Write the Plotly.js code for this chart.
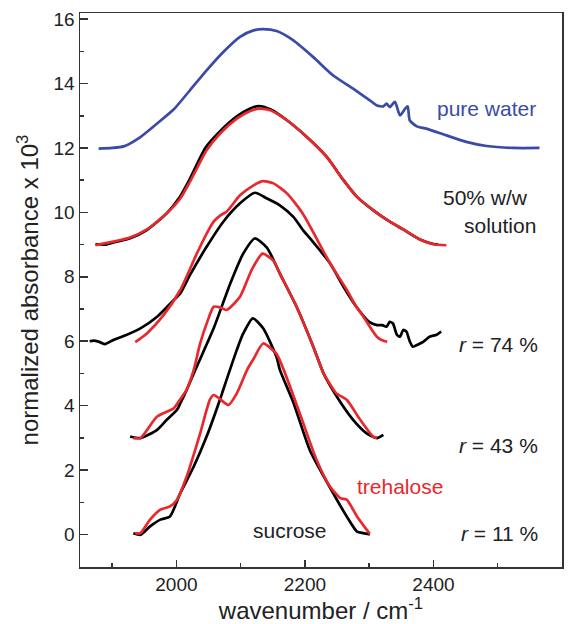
<!DOCTYPE html>
<html>
<head>
<meta charset="utf-8">
<script src="https://cdn.plot.ly/plotly-3.0.1.min.js"></script>
<style>html,body{margin:0;padding:0;background:#fff;}#chart{width:583px;height:624px;}</style>
</head>
<body>
<div id="chart"></div>
<script>
// pure water
const waterX = [1879,1900,1918,1944,1970,1996,2021,2047,2073,2099,2120,2135,2156,2182,2213,2244,2275,2301,2312,2322,2327,2332,2340,2348,2356,2360,2363,2374,2389,2420,2451,2483,2524,2565];
const waterY = [11.98,12.0,12.05,12.34,12.76,13.2,13.79,14.41,14.98,15.45,15.65,15.69,15.63,15.34,14.82,14.25,13.84,13.48,13.32,13.29,13.38,13.27,13.43,13.01,13.22,13.29,12.86,12.67,12.6,12.39,12.19,12.06,12.0,12.0];
// 50% w/w solution
const suc50X = [1874,1890,1905,1928,1954,1985,2005,2020,2045,2068,2094,2114,2128,2146,2172,2203,2234,2260,2281,2306,2332,2353,2379,2400,2407];
const suc50Y = [9.01,9.0,9.08,9.2,9.45,9.97,10.47,11.0,12.0,12.52,12.98,13.22,13.3,13.2,12.86,12.34,11.72,11.0,10.48,10.07,9.71,9.47,9.16,9.02,9.0];
const tre50X = [1874,1902,1928,1954,1985,2006,2021,2047,2068,2094,2115,2130,2146,2172,2203,2234,2260,2281,2306,2332,2353,2379,2400,2420];
const tre50Y = [8.98,9.09,9.22,9.47,9.97,10.43,10.95,11.93,12.45,12.91,13.15,13.22,13.17,12.86,12.34,11.72,11.0,10.48,10.07,9.71,9.47,9.16,9.01,8.98];
// r = 74 %
const suc74X = [1865,1871,1880,1889,1902,1918,1944,1970,1996,2006,2021,2047,2073,2099,2122,2141,2161,2182,2197,2208,2239,2260,2280,2300,2312,2320,2327,2332,2337,2343,2348,2353,2358,2363,2368,2376,2384,2394,2405,2412];
const suc74Y = [6.0,6.02,5.98,5.91,6.04,6.16,6.4,6.76,7.28,7.48,8.05,8.93,9.71,10.28,10.61,10.43,10.22,9.86,9.45,9.19,8.42,7.69,7.07,6.6,6.5,6.5,6.45,6.6,6.55,6.2,6.14,6.35,6.3,6.0,5.83,5.9,5.98,6.14,6.2,6.3];
const tre74X = [1936,1954,1980,2006,2032,2050,2058,2068,2078,2099,2120,2135,2151,2172,2197,2239,2265,2280,2291,2306,2312,2318,2328];
const tre74Y = [5.97,6.24,6.81,7.59,8.73,9.45,9.71,9.9,10.02,10.53,10.84,10.97,10.9,10.59,9.95,8.42,7.6,7.07,6.76,6.3,6.14,6.05,5.98];
// r = 43 %
const suc43X = [1928,1944,1970,1985,2001,2006,2016,2027,2037,2058,2084,2104,2122,2141,2161,2187,2213,2229,2249,2275,2296,2312,2322];
const suc43Y = [3.04,2.99,3.25,3.56,3.87,4.07,4.49,5.0,5.45,6.4,7.8,8.72,9.19,8.9,8.1,7.07,5.83,5.0,4.3,3.56,3.14,2.99,3.09];
const tre43X = [1933,1944,1970,1996,2006,2016,2027,2037,2048,2058,2068,2078,2099,2117,2134,2151,2161,2187,2213,2229,2249,2265,2286,2306,2312];
const tre43Y = [2.99,2.99,3.66,3.92,4.2,4.5,5.11,5.93,6.6,7.07,7.05,6.97,7.38,8.21,8.72,8.5,8.1,7.07,5.83,5.0,4.38,4.18,3.56,3.04,3.0];
// r = 11 %
const suc11X = [1933,1944,1959,1975,1990,2006,2027,2047,2068,2073,2094,2104,2119,2135,2156,2161,2182,2208,2244,2265,2281,2291,2301];
const suc11Y = [0.04,-0.01,0.25,0.46,0.56,1.28,2.11,3.04,4.2,4.5,5.73,6.24,6.71,6.4,5.5,5.11,4.1,2.6,1.28,0.56,0.09,0.04,0.0];
const tre11X = [1936,1944,1959,1975,1990,2001,2016,2037,2052,2058,2068,2081,2094,2110,2120,2135,2156,2167,2192,2218,2239,2255,2265,2281,2301];
const tre11Y = [0.04,0.04,0.46,0.77,0.87,1.08,1.8,3.14,4.18,4.33,4.2,4.02,4.38,5.11,5.45,5.93,5.6,5.11,3.76,2.32,1.49,1.13,1.08,0.56,0.02];

const BLUE = '#3a4ba6', RED = '#e8282c', BLACK = '#000000';
const FONT = 'Liberation Sans, Arial, sans-serif';

function tr(x, y, c) {
  return {x: x, y: y, type: 'scatter', mode: 'lines', line: {color: c, width: 2.7, shape: 'spline', smoothing: 0.6}, hoverinfo: 'skip', showlegend: false};
}

const data = [
  tr(waterX, waterY, BLUE),
  tr(suc50X, suc50Y, BLACK), tr(tre50X, tre50Y, RED),
  tr(suc74X, suc74Y, BLACK), tr(tre74X, tre74Y, RED),
  tr(suc43X, suc43Y, BLACK), tr(tre43X, tre43Y, RED),
  tr(suc11X, suc11Y, BLACK), tr(tre11X, tre11Y, RED)
];

function ann(text, x, y, color, xanchor) {
  return {text: text, x: x, y: y, xref: 'x', yref: 'y', showarrow: false, xanchor: xanchor, yanchor: 'middle',
          font: {family: FONT, size: 21, color: color}};
}

const layout = {
  width: 583, height: 624,
  margin: {l: 80, r: 21, t: 13, b: 57},
  paper_bgcolor: '#fff', plot_bgcolor: '#fff',
  font: {family: FONT, color: '#222'},
  xaxis: {
    range: [1850, 2600], tick0: 2000, dtick: 200, ticks: 'inside', ticklen: 7, tickwidth: 1.5, tickcolor: '#333',
    minor: {dtick: 100, ticks: 'inside', ticklen: 4, tickwidth: 1.5, tickcolor: '#333', showgrid: false},
    showline: true, linecolor: '#333', linewidth: 1.5, mirror: true, showgrid: false, zeroline: false,
    tickfont: {size: 19, color: '#222'},
    title: {text: 'wavenumber / cm<sup>-1</sup>', font: {size: 24, color: '#222'}, standoff: 2}
  },
  yaxis: {
    range: [-1.01, 16.19], tick0: 0, dtick: 2, ticks: 'inside', ticklen: 8, tickwidth: 1.5, tickcolor: '#333',
    minor: {dtick: 1, ticks: 'inside', ticklen: 4, tickwidth: 1.5, tickcolor: '#333', showgrid: false},
    showline: true, linecolor: '#333', linewidth: 1.5, mirror: true, showgrid: false, zeroline: false,
    tickfont: {size: 19, color: '#222'},
    title: {text: 'normalized absorbance x 10<sup>3</sup>', font: {size: 24, color: '#222'}, standoff: 8}
  },
  annotations: [
    ann('pure water', 2563, 13.23, BLUE, 'right'),
    ann('50% w/w', 2550, 10.47, '#222', 'right'),
    ann('solution', 2563, 9.6, '#222', 'right'),
    ann('<i>r</i> = 74 %', 2566, 5.91, '#222', 'right'),
    ann('<i>r</i> = 43 %', 2566, 2.75, '#222', 'right'),
    ann('<i>r</i> = 11 %', 2566, 0.02, '#222', 'right'),
    ann('trehalose', 2348, 1.48, RED, 'center'),
    ann('sucrose', 2177, 0.11, '#222', 'center')
  ]
};

Plotly.newPlot('chart', data, layout, {staticPlot: true, displayModeBar: false});
</script>
</body>
</html>
